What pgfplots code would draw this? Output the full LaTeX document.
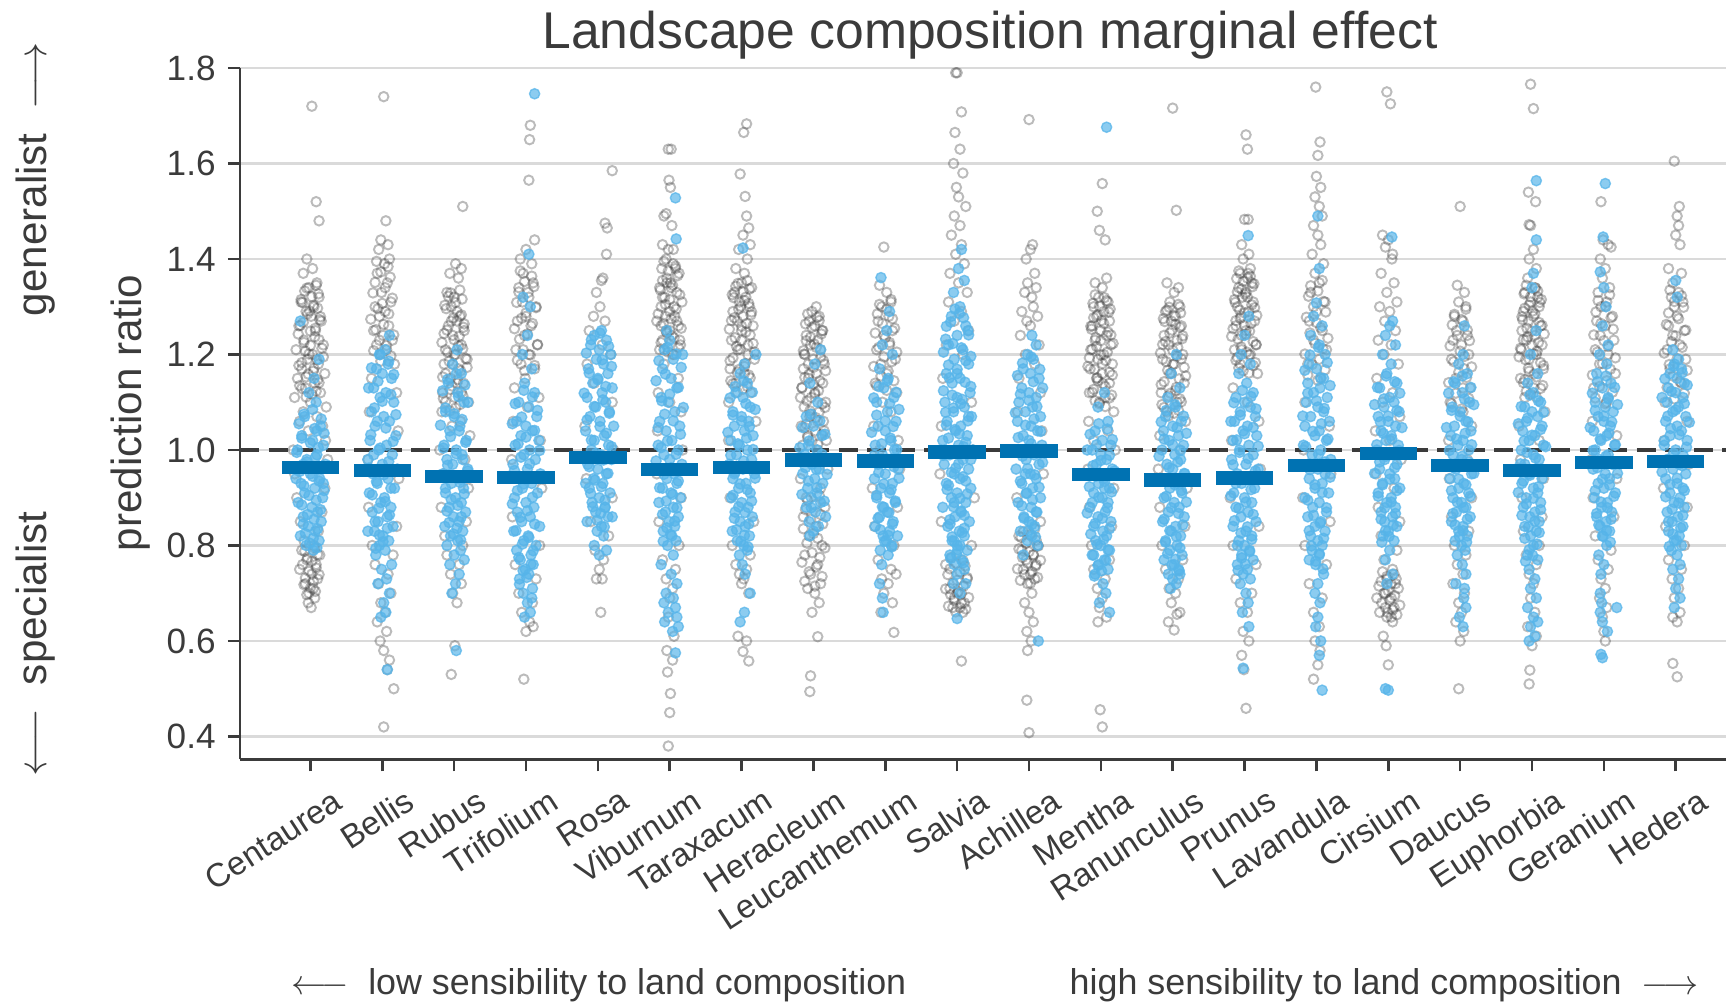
\documentclass[border=0pt]{standalone}
\usepackage{fontspec}
\setmainfont{Liberation Sans}
\usepackage{pgfplots}
\pgfplotsset{compat=1.18}
\definecolor{txt}{HTML}{3B3B3B}
\definecolor{skyb}{HTML}{56B4E9}
\definecolor{darkb}{HTML}{0072B2}
\definecolor{gridc}{HTML}{DADADA}
\definecolor{ring}{HTML}{383838}
\pgfplotsset{
  greypt/.style={only marks, mark=o, mark size=1.35pt, mark options={draw=ring, draw opacity=0.34, line width=0.55pt}},
  bluept/.style={only marks, mark=*, mark size=1.45pt, mark options={draw=skyb, fill=skyb, draw opacity=0.75, fill opacity=0.68, line width=0.4pt}},
}
\begin{document}
\begin{tikzpicture}
\path[use as bounding box] (0,0) rectangle (17.26cm,10.04cm);
\begin{axis}[
  at={(2.40cm,2.446cm)}, anchor=south west,
  width=14.86cm, height=6.914cm, scale only axis,
  xmin=-0.98, xmax=19.70, ymin=0.352, ymax=1.8,
  clip=true,
  axis x line*=bottom, axis y line*=left,
  axis line style={txt, line width=0.75pt},
  tick align=outside, major tick length=1.2mm,
  tick style={txt, line width=0.75pt},
  xtick={0,1,2,3,4,5,6,7,8,9,10,11,12,13,14,15,16,17,18,19},
  xticklabels={Centaurea,Bellis,Rubus,Trifolium,Rosa,Viburnum,Taraxacum,Heracleum,Leucanthemum,Salvia,Achillea,Mentha,Ranunculus,Prunus,Lavandula,Cirsium,Daucus,Euphorbia,Geranium,Hedera},
  xticklabel style={rotate=33, anchor=north east, text=txt, font=\fontsize{9.4}{11}\selectfont, inner sep=1pt, xshift=1.3mm, yshift=-2.1mm},
  ytick={0.4,0.6,0.8,1.0,1.2,1.4,1.6,1.8},
  yticklabels={0.4,0.6,0.8,1.0,1.2,1.4,1.6,1.8},
  yticklabel style={text=txt, font=\fontsize{10}{12}\selectfont},
  ymajorgrids, grid style={gridc, line width=0.6pt},
]
% grey: all observations (hollow)
\addplot[greypt] coordinates {
(0.02,1.72)(0.08,1.52)(0.12,1.48)(-0.05,1.40)(0.03,1.38)(-0.1,1.37)(0.09,1.35)(-0.02,1.34)(0.12,1.32)(-0.13,1.31)(0.05,1.30)(-0.06,1.29)(0.01,1.28)(0.15,1.27)(-0.16,1.26)(0.07,1.25)(-0.09,1.23)(0.18,1.22)(-0.2,1.21)(0.03,1.20)(-0.04,1.19)(0.11,1.18)(-0.12,1.17)(0.2,1.16)(-0.18,1.15)(0.06,1.14)(-0.07,1.13)(0.14,1.12)(-0.22,1.11)(0.0,1.10)(0.22,1.09)(-0.1,1.08)(0.09,1.07)(-0.15,1.06)(0.17,1.05)(-0.03,1.04)(0.21,1.02)(-0.24,1.00)(0.24,0.98)(-0.22,0.95)(0.2,0.92)(-0.19,0.90)(0.16,0.87)(-0.14,0.85)(0.11,0.83)(-0.09,0.81)(0.05,0.80)(-0.12,0.79)(0.13,0.78)(-0.05,0.77)(0.08,0.76)(-0.15,0.75)(0.02,0.74)(0.1,0.73)(-0.07,0.72)(0.04,0.71)(-0.02,0.70)(0.06,0.69)(-0.03,0.68)(0.01,0.67)
(1.02,1.74)(1.05,1.48)(0.98,1.44)(1.08,1.43)(0.95,1.42)(1.1,1.40)(1.03,1.39)(0.93,1.37)(1.07,1.35)(0.99,1.33)(1.12,1.31)(0.9,1.30)(1.04,1.29)(0.96,1.28)(1.09,1.26)(0.88,1.25)(1.01,1.24)(1.14,1.23)(0.92,1.22)(1.06,1.21)(0.97,1.20)(1.17,1.18)(0.85,1.15)(1.2,1.12)(0.82,1.08)(1.22,1.04)(0.8,0.98)(1.23,0.94)(0.81,0.88)(1.2,0.84)(0.86,0.80)(1.15,0.78)(0.9,0.76)(1.08,0.74)(0.95,0.72)(1.12,0.70)(0.98,0.68)(1.04,0.66)(0.93,0.64)(1.06,0.62)(0.97,0.60)(1.02,0.58)(1.1,0.56)(1.07,0.54)(1.16,0.50)(1.02,0.42)
(2.12,1.51)(2.02,1.39)(2.1,1.38)(1.94,1.37)(2.06,1.36)(1.9,1.33)(2.0,1.32)(1.96,1.30)(2.08,1.28)(2.04,1.27)(1.92,1.26)(2.14,1.25)(1.98,1.24)(2.1,1.22)(1.88,1.21)(2.02,1.20)(2.18,1.19)(1.86,1.18)(2.06,1.17)(1.95,1.15)(2.13,1.14)(1.84,1.12)(2.01,1.11)(2.2,1.10)(1.83,1.08)(2.09,1.06)(1.97,1.05)(2.22,1.03)(1.8,1.0)(2.15,0.98)(1.85,0.95)(2.2,0.92)(1.82,0.88)(2.17,0.85)(1.87,0.82)(2.12,0.80)(1.9,0.78)(2.07,0.76)(1.95,0.74)(2.1,0.72)(1.98,0.70)(2.04,0.68)(2.01,0.59)(1.96,0.53)
(3.06,1.68)(3.05,1.65)(3.04,1.565)(3.12,1.44)(3.0,1.42)(2.92,1.40)(3.08,1.39)(2.96,1.37)(3.1,1.35)(2.9,1.34)(3.03,1.33)(2.95,1.31)(3.14,1.30)(3.0,1.28)(2.88,1.27)(3.07,1.26)(2.98,1.24)(3.16,1.22)(2.86,1.21)(3.04,1.20)(2.93,1.18)(3.12,1.17)(2.99,1.15)(2.84,1.13)(3.18,1.11)(3.02,1.09)(2.82,1.06)(3.2,1.02)(2.8,0.98)(3.22,0.92)(2.81,0.86)(3.19,0.80)(2.85,0.76)(3.14,0.73)(2.9,0.70)(3.09,0.68)(2.94,0.66)(3.05,0.64)(3.0,0.62)(3.1,0.63)(2.97,0.52)
(4.2,1.585)(4.1,1.475)(4.13,1.465)(4.12,1.41)(4.07,1.36)(4.05,1.355)(3.98,1.33)(4.03,1.30)(3.94,1.28)(4.1,1.27)(3.88,1.25)(4.06,1.22)(4.18,1.20)(3.85,1.18)(3.95,1.14)(4.2,1.10)(3.82,1.05)(4.22,1.0)(3.84,0.94)(4.2,0.9)(3.9,0.85)(4.15,0.82)(3.96,0.79)(4.08,0.77)(4.02,0.75)(3.98,0.73)(4.06,0.73)(4.04,0.66)
(4.98,1.63)(5.02,1.63)(4.99,1.565)(5.01,1.55)(4.92,1.49)(4.95,1.495)(5.03,1.47)(4.9,1.43)(4.98,1.42)(5.05,1.42)(4.95,1.40)(5.08,1.38)(4.96,1.35)(5.02,1.34)(4.9,1.32)(5.06,1.30)(4.94,1.28)(5.1,1.27)(4.88,1.26)(5.0,1.25)(5.14,1.23)(4.86,1.21)(5.04,1.20)(4.92,1.18)(5.12,1.15)(4.84,1.12)(5.0,1.1)(5.16,1.08)(4.83,1.04)(5.18,1.0)(4.82,0.95)(5.16,0.9)(4.85,0.85)(5.13,0.80)(4.9,0.77)(5.08,0.75)(4.95,0.73)(5.04,0.71)(5.0,0.69)(4.98,0.65)(5.06,0.61)(4.96,0.58)(5.04,0.56)(4.97,0.535)(5.01,0.49)(5.0,0.45)(4.98,0.38)
(6.07,1.683)(6.03,1.665)(5.98,1.578)(6.05,1.531)(6.07,1.49)(6.1,1.465)(6.02,1.45)(6.12,1.43)(5.96,1.42)(6.08,1.40)(5.92,1.38)(6.04,1.37)(6.0,1.35)(6.14,1.34)(5.9,1.33)(6.06,1.32)(5.97,1.31)(6.11,1.30)(5.88,1.29)(6.02,1.28)(5.94,1.27)(6.16,1.26)(6.0,1.25)(5.86,1.23)(6.09,1.22)(5.95,1.21)(6.18,1.19)(5.84,1.17)(6.04,1.16)(5.92,1.14)(6.13,1.12)(5.82,1.10)(6.2,1.06)(5.82,1.02)(6.2,0.96)(5.84,0.9)(6.17,0.85)(5.87,0.80)(6.12,0.78)(5.92,0.76)(6.07,0.75)(5.97,0.74)(6.03,0.73)(6.0,0.72)(6.1,0.70)(5.95,0.61)(6.07,0.60)(6.02,0.578)(6.1,0.558)
(7.04,1.30)(6.98,1.29)(7.08,1.28)(6.94,1.27)(7.02,1.26)(7.12,1.25)(6.9,1.24)(7.06,1.23)(6.96,1.22)(7.1,1.21)(6.88,1.20)(7.0,1.19)(7.15,1.18)(6.86,1.17)(7.04,1.16)(6.93,1.15)(7.13,1.14)(6.84,1.13)(7.02,1.12)(6.97,1.11)(7.17,1.10)(6.87,1.09)(7.08,1.08)(6.95,1.07)(7.14,1.06)(6.83,1.05)(7.03,1.04)(6.92,1.03)(7.18,1.02)(6.85,1.01)(7.06,1.0)(6.98,0.98)(7.2,0.96)(6.82,0.94)(7.1,0.92)(6.9,0.90)(7.16,0.88)(6.86,0.86)(7.04,0.84)(6.94,0.82)(7.12,0.80)(6.88,0.78)(7.06,0.76)(6.96,0.74)(7.1,0.72)(6.92,0.71)(7.02,0.70)(7.08,0.68)(6.98,0.66)(7.06,0.609)(6.96,0.527)(6.95,0.494)
(7.98,1.425)(7.92,1.345)(8.02,1.33)(8.08,1.31)(7.95,1.30)(8.05,1.28)(7.9,1.27)(8.1,1.25)(7.98,1.24)(8.06,1.22)(7.88,1.21)(8.14,1.19)(7.94,1.18)(8.02,1.16)(7.86,1.14)(8.16,1.12)(7.96,1.10)(8.08,1.08)(7.84,1.05)(8.18,1.02)(7.92,1.0)(8.2,0.96)(7.82,0.92)(8.17,0.88)(7.85,0.84)(8.12,0.80)(7.9,0.77)(8.08,0.75)(7.95,0.73)(8.04,0.72)(7.98,0.70)(8.1,0.68)(7.94,0.66)(8.12,0.618)(8.15,0.74)
(8.98,1.79)(9.0,1.79)(9.06,1.708)(8.97,1.665)(9.04,1.63)(8.95,1.6)(9.08,1.58)(8.99,1.55)(9.02,1.53)(9.12,1.51)(8.96,1.49)(9.04,1.47)(8.92,1.45)(9.06,1.43)(8.98,1.41)(9.1,1.39)(8.9,1.37)(9.02,1.35)(9.14,1.33)(8.88,1.31)(9.06,1.29)(8.96,1.27)(9.16,1.25)(8.85,1.22)(9.08,1.20)(8.8,1.15)(9.2,1.10)(8.78,1.05)(9.22,1.0)(8.76,0.95)(9.24,0.90)(8.78,0.85)(9.2,0.80)(8.84,0.76)(9.14,0.73)(8.9,0.71)(9.06,0.70)(8.96,0.69)(9.1,0.68)(9.0,0.70)(8.94,0.67)(9.04,0.67)(9.08,0.66)(9.06,0.558)
(10.0,1.692)(10.05,1.43)(10.02,1.42)(9.96,1.40)(10.08,1.37)(9.98,1.35)(10.1,1.34)(9.94,1.33)(10.04,1.32)(10.06,1.30)(9.9,1.29)(10.12,1.28)(9.97,1.27)(10.02,1.26)(9.88,1.24)(10.14,1.22)(9.95,1.20)(10.08,1.18)(9.86,1.15)(10.16,1.12)(9.84,1.08)(10.18,1.04)(9.82,1.0)(10.2,0.95)(9.83,0.9)(10.16,0.85)(9.86,0.82)(10.12,0.80)(9.9,0.79)(10.06,0.78)(9.96,0.77)(10.1,0.76)(9.92,0.75)(10.02,0.74)(10.08,0.73)(9.98,0.72)(10.04,0.70)(9.94,0.68)(10.0,0.66)(10.06,0.64)(9.97,0.62)(10.03,0.60)(9.98,0.58)(9.97,0.476)(10.0,0.408)
(11.02,1.558)(10.95,1.50)(10.98,1.46)(11.06,1.44)(11.08,1.36)(10.92,1.35)(11.02,1.34)(10.97,1.32)(11.1,1.31)(10.9,1.30)(11.04,1.29)(10.94,1.28)(11.12,1.27)(10.88,1.26)(11.0,1.25)(11.08,1.24)(10.92,1.23)(11.14,1.22)(10.86,1.21)(11.04,1.20)(10.96,1.19)(11.16,1.18)(10.85,1.17)(11.02,1.16)(10.94,1.15)(11.12,1.14)(10.84,1.12)(11.06,1.11)(10.98,1.10)(11.18,1.08)(10.83,1.06)(11.1,1.04)(10.9,1.02)(11.2,1.0)(10.82,0.96)(11.18,0.92)(10.84,0.88)(11.15,0.84)(10.87,0.80)(11.12,0.77)(10.9,0.75)(11.06,0.73)(10.95,0.71)(11.02,0.69)(10.98,0.67)(11.08,0.65)(10.96,0.64)(10.99,0.456)(11.02,0.42)
(12.0,1.716)(12.05,1.502)(11.92,1.35)(12.08,1.34)(12.02,1.33)(11.96,1.31)(12.1,1.30)(11.9,1.29)(12.04,1.28)(11.98,1.27)(12.12,1.26)(11.88,1.24)(12.06,1.23)(11.94,1.22)(12.14,1.20)(11.86,1.19)(12.02,1.18)(11.96,1.16)(12.16,1.14)(11.84,1.12)(12.06,1.10)(11.92,1.08)(12.18,1.06)(11.82,1.03)(12.1,1.0)(11.8,0.96)(12.2,0.92)(11.82,0.88)(12.17,0.84)(11.85,0.80)(12.14,0.77)(11.9,0.75)(12.08,0.73)(11.95,0.71)(12.04,0.70)(11.98,0.68)(12.1,0.66)(12.06,0.656)(11.94,0.64)(12.02,0.623)
(13.02,1.66)(13.04,1.63)(13.05,1.483)(13.0,1.483)(12.96,1.43)(13.06,1.41)(12.98,1.40)(13.08,1.38)(12.94,1.37)(13.04,1.36)(13.1,1.35)(12.92,1.34)(13.02,1.33)(12.97,1.32)(13.12,1.31)(12.9,1.30)(13.06,1.29)(12.95,1.28)(13.14,1.27)(12.88,1.26)(13.02,1.25)(12.96,1.24)(13.16,1.22)(12.86,1.21)(13.08,1.20)(12.94,1.18)(13.18,1.16)(12.84,1.13)(13.04,1.10)(13.2,1.06)(12.82,1.02)(13.22,0.96)(12.8,0.9)(13.2,0.84)(12.84,0.80)(13.16,0.76)(12.88,0.73)(13.1,0.70)(12.94,0.68)(13.04,0.66)(12.98,0.62)(13.06,0.60)(12.96,0.57)(12.99,0.54)(13.02,0.459)
(13.99,1.76)(14.05,1.645)(14.02,1.617)(14.0,1.573)(14.06,1.55)(13.98,1.53)(14.04,1.51)(14.08,1.49)(13.96,1.47)(14.02,1.45)(14.06,1.43)(13.94,1.41)(14.1,1.39)(13.98,1.37)(14.04,1.35)(13.92,1.33)(14.12,1.31)(14.0,1.29)(13.9,1.27)(14.08,1.25)(13.96,1.23)(14.14,1.21)(13.88,1.18)(14.06,1.15)(13.84,1.10)(14.18,1.05)(13.82,1.0)(14.2,0.95)(13.81,0.9)(14.19,0.85)(13.84,0.80)(14.14,0.76)(13.9,0.72)(14.08,0.69)(13.96,0.66)(14.04,0.63)(13.98,0.60)(14.05,0.58)(14.02,0.55)(13.96,0.52)
(14.98,1.75)(15.03,1.725)(14.92,1.45)(15.0,1.44)(14.96,1.425)(15.06,1.41)(15.05,1.40)(14.9,1.37)(15.08,1.35)(14.98,1.33)(15.12,1.31)(14.88,1.30)(15.02,1.29)(14.95,1.27)(15.1,1.25)(14.86,1.23)(15.04,1.22)(14.94,1.20)(15.14,1.18)(14.84,1.15)(15.06,1.12)(14.92,1.10)(15.16,1.07)(14.82,1.04)(15.02,1.02)(15.18,0.98)(14.83,0.95)(15.08,0.92)(14.86,0.88)(15.16,0.85)(14.9,0.82)(15.12,0.79)(14.94,0.77)(15.06,0.75)(14.98,0.73)(15.1,0.72)(14.96,0.70)(15.04,0.69)(15.08,0.67)(14.99,0.66)(15.04,0.65)(15.06,0.64)(14.97,0.59)(15.0,0.55)(14.93,0.61)
(16.0,1.51)(15.96,1.345)(16.06,1.33)(15.98,1.31)(16.08,1.30)(15.92,1.28)(16.04,1.27)(15.95,1.25)(16.1,1.24)(15.9,1.23)(16.02,1.22)(16.12,1.20)(15.88,1.19)(16.06,1.17)(15.94,1.15)(16.14,1.13)(15.86,1.10)(16.04,1.08)(16.16,1.05)(15.84,1.02)(16.1,0.98)(15.85,0.94)(16.16,0.90)(15.88,0.86)(16.12,0.83)(15.92,0.80)(16.08,0.78)(15.96,0.76)(16.04,0.74)(15.9,0.72)(16.06,0.70)(15.98,0.68)(16.02,0.66)(15.94,0.64)(16.0,0.60)(16.05,0.62)(15.98,0.50)
(16.98,1.766)(17.02,1.715)(16.95,1.54)(17.05,1.52)(16.96,1.472)(16.98,1.47)(17.02,1.42)(16.96,1.40)(17.06,1.38)(16.94,1.36)(17.04,1.34)(16.9,1.33)(17.08,1.32)(16.98,1.31)(17.1,1.30)(16.88,1.29)(17.02,1.28)(16.95,1.27)(17.12,1.26)(16.86,1.25)(17.04,1.24)(16.92,1.23)(17.14,1.22)(16.85,1.21)(17.06,1.20)(16.96,1.19)(17.16,1.17)(16.84,1.15)(17.02,1.13)(16.9,1.11)(17.18,1.08)(16.82,1.05)(17.1,1.02)(16.84,0.98)(17.16,0.94)(16.86,0.90)(17.14,0.86)(16.88,0.83)(17.1,0.80)(16.92,0.78)(17.06,0.76)(16.96,0.74)(17.02,0.72)(16.98,0.69)(17.04,0.66)(16.94,0.63)(17.06,0.61)(17.0,0.59)(16.97,0.539)(16.96,0.51)
(17.96,1.52)(17.99,1.44)(18.06,1.43)(18.1,1.425)(17.95,1.40)(18.02,1.38)(17.98,1.36)(18.08,1.34)(17.92,1.33)(18.04,1.31)(17.96,1.30)(18.12,1.28)(17.9,1.27)(18.02,1.26)(17.95,1.24)(18.14,1.23)(17.88,1.21)(18.06,1.20)(17.94,1.18)(18.16,1.16)(17.86,1.13)(18.04,1.10)(17.84,1.06)(18.18,1.03)(17.83,0.98)(18.18,0.94)(17.85,0.9)(18.14,0.86)(17.88,0.82)(18.1,0.79)(17.92,0.77)(18.06,0.75)(17.96,0.73)(18.02,0.71)(17.94,0.69)(18.04,0.67)(17.98,0.65)(18.0,0.62)(18.02,0.60)
(18.98,1.605)(19.05,1.51)(19.02,1.49)(19.04,1.47)(19.0,1.45)(19.06,1.43)(18.9,1.38)(19.08,1.37)(18.96,1.35)(19.04,1.33)(18.94,1.32)(19.1,1.31)(18.98,1.30)(19.02,1.28)(18.9,1.26)(19.12,1.25)(18.96,1.24)(19.06,1.22)(18.88,1.21)(19.14,1.19)(18.92,1.17)(19.08,1.14)(18.85,1.10)(19.16,1.06)(18.84,1.02)(19.18,0.97)(18.83,0.92)(19.16,0.88)(18.86,0.84)(19.12,0.80)(18.9,0.77)(19.08,0.75)(18.95,0.73)(19.04,0.71)(18.98,0.69)(19.06,0.66)(19.02,0.64)(18.96,0.65)(18.96,0.553)(19.02,0.525)
};
% grey: denser parts of each cloud
\addplot[greypt] coordinates {
(0.08,1.345)(-0.08,1.333)(0.02,1.321)(-0.11,1.309)(0.1,1.297)(-0.04,1.285)(0.13,1.273)(-0.14,1.261)(0.0,1.249)(0.06,1.237)(-0.09,1.225)(0.16,1.213)(-0.02,1.201)(0.09,1.189)(-0.16,1.177)(0.04,1.165)(-0.06,1.153)(0.12,1.141)(-0.12,1.129)(0.02,1.117)
(-0.05,1.339)(0.11,1.327)(-0.13,1.315)(0.04,1.303)(-0.01,1.291)(0.14,1.279)(-0.1,1.267)(0.07,1.255)(-0.17,1.243)(0.12,1.231)(0.0,1.219)(-0.07,1.207)(0.18,1.195)(-0.12,1.183)(0.05,1.171)(-0.03,1.159)(0.1,1.147)(-0.15,1.135)(0.08,1.123)(-0.06,1.111)
(0.06,0.795)(-0.08,0.788)(0.1,0.781)(-0.04,0.774)(0.02,0.767)(-0.11,0.760)(0.08,0.753)(-0.02,0.746)(0.12,0.739)(-0.07,0.732)(0.04,0.725)(-0.09,0.718)(0.0,0.711)(0.07,0.704)(-0.05,0.697)
(0.92,1.395)(1.08,1.384)(0.98,1.373)(1.11,1.362)(0.9,1.351)(1.04,1.340)(0.87,1.329)(1.14,1.318)(1.0,1.307)(0.94,1.296)(1.09,1.285)(0.84,1.274)(1.02,1.263)(0.91,1.252)(1.16,1.241)(0.96,1.230)(1.06,1.219)(0.88,1.208)(1.12,1.197)(0.98,1.186)
(2.08,1.335)(1.92,1.322)(2.02,1.309)(1.89,1.296)(2.1,1.283)(1.96,1.270)(2.13,1.257)(1.86,1.244)(2.0,1.231)(2.06,1.218)(1.91,1.205)(2.16,1.192)(1.98,1.179)(2.09,1.166)(1.84,1.153)(2.04,1.140)(1.94,1.127)(2.12,1.114)(1.88,1.101)(2.02,1.088)
(1.95,1.329)(2.11,1.316)(1.87,1.303)(2.04,1.290)(1.99,1.277)(2.14,1.264)(1.9,1.251)(2.07,1.238)(1.83,1.225)(2.12,1.212)(2.0,1.199)(1.93,1.186)(2.18,1.173)(1.88,1.160)(2.05,1.147)(1.97,1.134)(2.1,1.121)(1.85,1.108)(2.08,1.095)(1.94,1.082)
(2.92,1.375)(3.08,1.364)(2.98,1.353)(3.11,1.342)(2.9,1.331)(3.04,1.320)(2.87,1.309)(3.14,1.298)(3.0,1.287)(2.94,1.276)(3.09,1.265)(2.84,1.254)(3.02,1.243)(2.91,1.232)(3.16,1.221)(2.96,1.210)(3.06,1.199)(2.88,1.188)(3.12,1.177)(2.98,1.166)
(4.92,1.395)(5.08,1.385)(4.98,1.375)(5.11,1.365)(4.9,1.355)(5.04,1.345)(4.87,1.335)(5.14,1.325)(5.0,1.315)(4.94,1.305)(5.09,1.295)(4.84,1.285)(5.02,1.275)(4.91,1.265)(5.16,1.255)(4.96,1.245)(5.06,1.235)(4.88,1.225)(5.12,1.215)(4.98,1.205)
(5.05,1.39)(4.89,1.38)(5.13,1.37)(4.96,1.36)(5.01,1.35)(4.86,1.34)(5.1,1.33)(4.93,1.32)(5.17,1.31)(4.88,1.30)(5.0,1.29)(5.07,1.28)(4.82,1.27)(5.12,1.26)(4.95,1.25)(5.03,1.24)(4.9,1.23)(5.15,1.22)(4.92,1.21)(5.06,1.20)
(6.08,1.355)(5.92,1.343)(6.02,1.331)(5.89,1.319)(6.1,1.307)(5.96,1.295)(6.13,1.283)(5.86,1.271)(6.0,1.259)(6.06,1.247)(5.91,1.235)(6.16,1.223)(5.98,1.211)(6.09,1.199)(5.84,1.187)(6.04,1.175)(5.94,1.163)(6.12,1.151)(5.88,1.139)(6.02,1.127)
(5.95,1.349)(6.11,1.337)(5.87,1.325)(6.04,1.313)(5.99,1.301)(6.14,1.289)(5.9,1.277)(6.07,1.265)(5.83,1.253)(6.12,1.241)(6.0,1.229)(5.93,1.217)(6.18,1.205)(5.88,1.193)(6.05,1.181)(5.97,1.169)(6.1,1.157)(5.85,1.145)(6.08,1.133)(5.94,1.121)
(6.92,1.285)(7.08,1.271)(6.98,1.257)(7.11,1.243)(6.9,1.229)(7.04,1.215)(6.87,1.201)(7.14,1.187)(7.0,1.173)(6.94,1.159)(7.09,1.145)(6.84,1.131)(7.02,1.117)(6.91,1.103)(7.16,1.089)(6.96,1.075)(7.06,1.061)(6.88,1.047)(7.12,1.033)(6.98,1.019)
(7.05,1.278)(6.89,1.264)(7.13,1.250)(6.96,1.236)(7.01,1.222)(6.86,1.208)(7.1,1.194)(6.93,1.180)(7.17,1.166)(6.88,1.152)(7.0,1.138)(7.07,1.124)(6.82,1.110)(7.12,1.096)(6.95,1.082)(7.03,1.068)(6.9,1.054)(7.15,1.040)(6.92,1.026)(7.06,1.012)
(7.08,0.905)(6.92,0.895)(7.02,0.885)(6.89,0.875)(7.1,0.865)(6.96,0.855)(7.13,0.845)(6.86,0.835)(7.0,0.825)(7.06,0.815)(6.91,0.805)(7.16,0.795)(6.98,0.785)(7.09,0.775)(6.84,0.765)(7.04,0.755)(6.94,0.745)(7.12,0.735)(6.88,0.725)(7.02,0.715)
(8.08,1.315)(7.92,1.305)(8.02,1.295)(7.89,1.285)(8.1,1.275)(7.96,1.265)(8.13,1.255)(7.86,1.245)(8.0,1.235)(8.06,1.225)(7.91,1.215)(8.16,1.205)(7.98,1.195)(8.09,1.185)(7.84,1.175)(8.04,1.165)(7.94,1.155)(8.12,1.145)(7.88,1.135)(8.02,1.125)
(8.92,0.775)(9.08,0.769)(8.98,0.763)(9.11,0.757)(8.9,0.751)(9.04,0.745)(8.87,0.739)(9.14,0.733)(9.0,0.727)(8.94,0.721)(9.09,0.715)(8.84,0.709)(9.02,0.703)(8.91,0.697)(9.16,0.691)(8.96,0.685)(9.06,0.679)(8.88,0.673)(9.12,0.667)(8.98,0.661)
(10.08,0.835)(9.92,0.829)(10.02,0.823)(9.89,0.817)(10.1,0.811)(9.96,0.805)(10.13,0.799)(9.86,0.793)(10.0,0.787)(10.06,0.781)(9.91,0.775)(10.16,0.769)(9.98,0.763)(10.09,0.757)(9.84,0.751)(10.04,0.745)(9.94,0.739)(10.12,0.733)(9.88,0.727)(10.02,0.721)
(10.92,1.325)(11.08,1.313)(10.98,1.301)(11.11,1.289)(10.9,1.277)(11.04,1.265)(10.87,1.253)(11.14,1.241)(11.0,1.229)(10.94,1.217)(11.09,1.205)(10.84,1.193)(11.02,1.181)(10.91,1.169)(11.16,1.157)(10.96,1.145)(11.06,1.133)(10.88,1.121)(11.12,1.109)(10.98,1.097)
(11.05,1.319)(10.89,1.307)(11.13,1.295)(10.96,1.283)(11.01,1.271)(10.86,1.259)(11.1,1.247)(10.93,1.235)(11.17,1.223)(10.88,1.211)(11.0,1.199)(11.07,1.187)(10.82,1.175)(11.12,1.163)(10.95,1.151)(11.03,1.139)(10.9,1.127)(11.15,1.115)(10.92,1.103)(11.06,1.091)
(12.08,1.305)(11.92,1.293)(12.02,1.281)(11.89,1.269)(12.1,1.257)(11.96,1.245)(12.13,1.233)(11.86,1.221)(12.0,1.209)(12.06,1.197)(11.91,1.185)(12.16,1.173)(11.98,1.161)(12.09,1.149)(11.84,1.137)(12.04,1.125)(11.94,1.113)(12.12,1.101)(11.88,1.089)(12.02,1.077)
(11.95,1.299)(12.11,1.287)(11.87,1.275)(12.04,1.263)(11.99,1.251)(12.14,1.239)(11.9,1.227)(12.07,1.215)(11.83,1.203)(12.12,1.191)(12.0,1.179)(11.93,1.167)(12.18,1.155)(11.88,1.143)(12.05,1.131)(11.97,1.119)(12.1,1.107)(11.85,1.095)(12.08,1.083)(11.94,1.071)
(12.92,1.375)(13.08,1.364)(12.98,1.353)(13.11,1.342)(12.9,1.331)(13.04,1.320)(12.87,1.309)(13.14,1.298)(13.0,1.287)(12.94,1.276)(13.09,1.265)(12.84,1.254)(13.02,1.243)(12.91,1.232)(13.16,1.221)(12.96,1.210)(13.06,1.199)(12.88,1.188)(13.12,1.177)(12.98,1.166)
(13.05,1.370)(12.89,1.359)(13.13,1.348)(12.96,1.337)(13.01,1.326)(12.86,1.315)(13.1,1.304)(12.93,1.293)(13.17,1.282)(12.88,1.271)(13.0,1.260)(13.07,1.249)(12.82,1.238)(13.12,1.227)(12.95,1.216)(13.03,1.205)(12.9,1.194)(13.15,1.183)(12.92,1.172)(13.06,1.161)
(14.08,1.355)(13.92,1.344)(14.02,1.333)(13.89,1.322)(14.1,1.311)(13.96,1.300)(14.13,1.289)(13.86,1.278)(14.0,1.267)(14.06,1.256)(13.91,1.245)(14.16,1.234)(13.98,1.223)(14.09,1.212)(13.84,1.201)(14.04,1.190)(13.94,1.179)(14.12,1.168)(13.88,1.157)(14.02,1.146)
(14.92,0.745)(15.08,0.740)(14.98,0.735)(15.11,0.730)(14.9,0.725)(15.04,0.720)(14.87,0.715)(15.14,0.710)(15.0,0.705)(14.94,0.700)(15.09,0.695)(14.84,0.690)(15.02,0.685)(14.91,0.680)(15.16,0.675)(14.96,0.670)(15.06,0.665)(14.88,0.660)(15.12,0.655)(14.98,0.650)
(16.08,1.295)(15.92,1.284)(16.02,1.273)(15.89,1.262)(16.1,1.251)(15.96,1.240)(16.13,1.229)(15.86,1.218)(16.0,1.207)(16.06,1.196)(15.91,1.185)(16.16,1.174)(15.98,1.163)(16.09,1.152)(15.84,1.141)(16.04,1.130)(15.94,1.119)(16.12,1.108)(15.88,1.097)(16.02,1.086)
(16.92,1.345)(17.08,1.333)(16.98,1.321)(17.11,1.309)(16.9,1.297)(17.04,1.285)(16.87,1.273)(17.14,1.261)(17.0,1.249)(16.94,1.237)(17.09,1.225)(16.84,1.213)(17.02,1.201)(16.91,1.189)(17.16,1.177)(16.96,1.165)(17.06,1.153)(16.88,1.141)(17.12,1.129)(16.98,1.117)
(17.05,1.339)(16.89,1.327)(17.13,1.315)(16.96,1.303)(17.01,1.291)(16.86,1.279)(17.1,1.267)(16.93,1.255)(17.17,1.243)(16.88,1.231)(17.0,1.219)(17.07,1.207)(16.82,1.195)(17.12,1.183)(16.95,1.171)(17.03,1.159)(16.9,1.147)(17.15,1.135)(16.92,1.123)(17.06,1.111)
(18.08,1.325)(17.92,1.313)(18.02,1.301)(17.89,1.289)(18.1,1.277)(17.96,1.265)(18.13,1.253)(17.86,1.241)(18.0,1.229)(18.06,1.217)(17.91,1.205)(18.16,1.193)(17.98,1.181)(18.09,1.169)(17.84,1.157)(18.04,1.145)(17.94,1.133)(18.12,1.121)(17.88,1.109)(18.02,1.097)
(18.92,1.335)(19.08,1.323)(18.98,1.311)(19.11,1.299)(18.9,1.287)(19.04,1.275)(18.87,1.263)(19.14,1.251)(19.0,1.239)(18.94,1.227)(19.09,1.215)(18.84,1.203)(19.02,1.191)(18.91,1.179)(19.16,1.167)(18.96,1.155)(19.06,1.143)(18.88,1.131)(19.12,1.119)(18.98,1.107)
};
% blue: highlighted observations (filled)
\addplot[bluept] coordinates {
(-0.14,1.27)(0.12,1.19)(0.05,1.15)(-0.02,1.12)(0.08,1.1)(-0.08,1.07)(0.14,1.05)(-0.12,1.03)(0.03,1.02)(0.18,1.01)(-0.18,1.0)(0.09,0.99)(-0.05,0.98)(0.21,0.97)(-0.21,0.96)(0.0,0.95)(0.13,0.94)(-0.13,0.93)(0.06,0.92)(-0.08,0.91)(0.17,0.90)(-0.17,0.89)(0.02,0.88)(0.1,0.87)(-0.1,0.86)(0.15,0.85)(-0.03,0.84)(0.07,0.83)(-0.14,0.82)(0.12,0.81)(-0.06,0.80)(0.04,0.79)(0.18,0.93)(-0.2,0.94)(0.09,1.04)(-0.1,0.97)
(1.1,1.24)(1.04,1.21)(0.96,1.2)(1.08,1.18)(0.92,1.17)(1.0,1.16)(1.13,1.15)(0.88,1.13)(1.05,1.12)(0.97,1.11)(1.16,1.1)(0.85,1.08)(1.02,1.07)(1.1,1.06)(0.9,1.05)(1.19,1.03)(0.83,1.02)(1.06,1.01)(0.95,1.0)(1.14,0.99)(0.8,0.98)(1.0,0.97)(1.21,0.96)(0.87,0.95)(1.08,0.94)(0.93,0.93)(1.17,0.92)(0.82,0.91)(1.03,0.9)(0.98,0.89)(1.12,0.88)(0.86,0.87)(1.07,0.86)(0.94,0.85)(1.15,0.84)(0.89,0.83)(1.01,0.82)(1.09,0.81)(0.96,0.8)(1.04,0.79)(0.91,0.78)(1.13,0.76)(0.99,0.75)(1.06,0.73)(0.94,0.72)(1.1,0.7)(1.02,0.68)(1.05,0.66)(0.98,0.65)(1.07,0.54)(0.8,0.83)
(2.04,1.21)(1.98,1.18)(2.1,1.16)(1.92,1.14)(2.05,1.12)(2.14,1.10)(1.88,1.08)(2.0,1.07)(2.08,1.05)(1.94,1.04)(2.17,1.02)(1.86,1.01)(2.03,1.0)(2.11,0.99)(1.9,0.98)(1.98,0.97)(2.19,0.96)(1.84,0.95)(2.06,0.94)(1.96,0.93)(2.13,0.92)(1.88,0.91)(2.02,0.90)(2.1,0.89)(1.93,0.88)(2.16,0.87)(1.99,0.86)(2.07,0.85)(1.87,0.84)(2.12,0.83)(1.95,0.82)(2.05,0.81)(1.9,0.80)(2.09,0.79)(2.0,0.78)(2.14,0.77)(1.94,0.76)(2.07,0.74)(2.02,0.72)(1.97,0.70)(2.03,0.58)
(3.12,1.746)(3.04,1.41)(2.96,1.32)(3.06,1.30)(3.02,1.24)(2.95,1.2)(3.08,1.17)(2.98,1.14)(3.12,1.12)(2.9,1.10)(3.04,1.09)(3.15,1.07)(2.87,1.06)(3.0,1.05)(3.09,1.04)(2.93,1.03)(3.18,1.02)(2.85,1.01)(3.05,1.0)(2.97,0.99)(3.13,0.98)(2.82,0.97)(3.02,0.96)(3.2,0.95)(2.9,0.94)(3.08,0.93)(2.95,0.92)(3.16,0.91)(2.84,0.90)(3.0,0.89)(3.11,0.88)(2.88,0.87)(3.06,0.86)(2.94,0.85)(3.19,0.84)(2.83,0.83)(3.03,0.82)(2.97,0.81)(3.14,0.80)(2.87,0.79)(3.07,0.78)(2.92,0.77)(3.1,0.76)(2.99,0.75)(3.04,0.74)(2.91,0.73)(3.09,0.71)(2.96,0.70)(3.02,0.68)(3.06,0.66)(2.98,0.65)(3.08,0.69)
(4.05,1.25)(3.95,1.24)(4.12,1.23)(3.9,1.22)(4.02,1.21)(4.18,1.20)(3.98,1.19)(4.08,1.18)(3.87,1.17)(4.14,1.16)(4.0,1.15)(3.93,1.14)(4.2,1.13)(4.06,1.12)(3.85,1.11)(4.11,1.10)(3.97,1.09)(4.16,1.08)(3.89,1.07)(4.03,1.06)(4.22,1.05)(3.83,1.04)(4.09,1.03)(3.95,1.02)(4.15,1.01)(3.91,1.0)(4.04,0.99)(4.19,0.98)(3.86,0.97)(4.0,0.96)(4.12,0.95)(3.94,0.94)(4.07,0.93)(3.88,0.92)(4.17,0.91)(4.02,0.90)(3.92,0.89)(4.1,0.88)(3.97,0.87)(4.14,0.86)(3.85,0.85)(4.05,0.84)(4.2,0.86)(3.99,0.83)(4.08,0.82)(3.95,0.80)(4.12,0.79)(4.02,0.78)(4.1,0.88)(3.83,0.93)
(5.08,1.528)(5.09,1.442)(5.18,1.20)(4.96,1.25)(5.0,1.23)(4.93,1.21)(5.05,1.19)(4.9,1.17)(5.02,1.15)(5.1,1.13)(4.88,1.11)(4.98,1.10)(5.07,1.08)(4.86,1.06)(5.14,1.05)(4.95,1.04)(5.03,1.02)(4.84,1.01)(5.12,1.0)(4.92,0.99)(5.0,0.98)(5.17,0.97)(4.87,0.96)(5.06,0.95)(4.96,0.94)(5.1,0.93)(4.9,0.92)(5.02,0.91)(5.15,0.90)(4.85,0.89)(5.05,0.88)(4.94,0.87)(5.12,0.86)(4.99,0.85)(5.07,0.84)(4.91,0.83)(5.03,0.82)(5.09,0.81)(4.97,0.80)(5.05,0.78)(4.88,0.76)(5.02,0.74)(5.1,0.72)(4.95,0.70)(5.05,0.69)(4.92,0.68)(5.08,0.67)(4.98,0.66)(5.1,0.65)(4.93,0.64)(5.12,0.63)(5.04,0.62)(5.08,0.575)
(6.02,1.423)(6.2,1.20)(6.04,1.18)(5.98,1.16)(6.08,1.14)(5.92,1.12)(6.02,1.11)(6.12,1.09)(5.88,1.08)(6.0,1.07)(6.1,1.06)(5.9,1.05)(6.04,1.04)(6.16,1.03)(5.85,1.02)(5.97,1.01)(6.08,1.0)(5.93,0.99)(6.14,0.98)(5.83,0.97)(6.02,0.96)(6.18,0.95)(5.88,0.94)(6.06,0.93)(5.96,0.92)(6.12,0.91)(5.86,0.90)(6.0,0.89)(6.09,0.88)(5.91,0.87)(6.15,0.86)(5.98,0.85)(6.05,0.84)(5.87,0.83)(6.11,0.82)(5.94,0.81)(6.03,0.80)(6.08,0.79)(5.97,0.78)(6.01,0.76)(6.05,0.74)(6.12,0.70)(5.98,0.64)(6.04,0.66)(5.9,0.95)
(7.1,1.21)(7.02,1.18)(6.95,1.14)(7.06,1.10)(6.9,1.07)(7.0,1.05)(7.12,1.03)(6.93,1.01)(7.05,1.0)(6.88,0.99)(7.15,0.98)(6.98,0.97)(7.08,0.96)(6.85,0.95)(7.02,0.94)(7.13,0.93)(6.92,0.92)(7.05,0.91)(6.97,0.90)(7.1,0.89)(6.9,0.88)(7.03,0.87)(7.17,0.86)(6.94,0.85)(7.07,0.84)(7.0,0.83)(6.95,0.82)(7.04,0.96)
(7.94,1.361)(8.06,1.29)(8.02,1.25)(7.96,1.22)(8.1,1.2)(7.92,1.17)(8.04,1.15)(7.98,1.13)(8.12,1.11)(7.88,1.10)(8.03,1.08)(8.15,1.06)(7.9,1.05)(8.0,1.04)(8.08,1.02)(7.86,1.01)(8.13,1.0)(7.96,0.99)(8.05,0.98)(7.9,0.97)(8.18,0.96)(8.0,0.95)(7.85,0.94)(8.1,0.93)(7.94,0.92)(8.06,0.91)(7.88,0.90)(8.14,0.89)(7.98,0.88)(8.03,0.87)(7.92,0.86)(8.11,0.85)(7.86,0.84)(8.06,0.83)(7.97,0.82)(8.01,0.81)(8.09,0.80)(7.93,0.79)(8.04,0.78)(7.95,0.76)(7.92,0.72)(7.96,0.69)(7.97,0.66)(8.17,0.82)
(9.06,1.42)(9.02,1.38)(9.1,1.355)(8.95,1.33)(9.04,1.30)(8.92,1.28)(9.12,1.26)(9.0,1.24)(8.88,1.22)(9.08,1.21)(8.96,1.19)(9.16,1.18)(8.85,1.16)(9.04,1.15)(8.93,1.14)(9.18,1.12)(9.0,1.11)(8.83,1.10)(9.1,1.09)(8.95,1.08)(9.2,1.07)(8.86,1.06)(9.05,1.05)(8.98,1.04)(9.14,1.03)(8.8,1.02)(9.02,1.01)(9.22,1.0)(8.9,0.99)(9.08,0.98)(8.82,0.97)(9.16,0.96)(8.96,0.95)(9.04,0.94)(8.85,0.93)(9.19,0.92)(9.0,0.91)(8.92,0.90)(9.12,0.89)(8.8,0.88)(9.06,0.87)(8.97,0.86)(9.17,0.85)(8.87,0.84)(9.03,0.83)(9.1,0.82)(8.93,0.81)(9.0,0.80)(9.14,0.79)(8.9,0.78)(9.06,0.77)(8.96,0.76)(9.1,0.75)(9.0,0.74)(8.95,0.72)(9.04,0.70)(9.0,0.647)(9.12,0.72)
(10.04,1.24)(10.1,1.22)(9.98,1.20)(10.06,1.19)(9.92,1.17)(10.02,1.16)(10.14,1.15)(9.9,1.13)(10.0,1.12)(10.1,1.11)(9.86,1.10)(10.05,1.09)(9.95,1.08)(10.16,1.07)(9.84,1.06)(10.03,1.05)(10.12,1.04)(9.92,1.03)(10.0,1.02)(10.18,1.01)(9.86,1.0)(10.07,0.99)(9.96,0.98)(10.14,0.97)(9.82,0.96)(10.02,0.95)(10.1,0.94)(9.9,0.93)(10.05,0.92)(9.97,0.91)(10.16,0.90)(9.85,0.89)(10.03,0.88)(10.11,0.87)(9.93,0.86)(10.0,0.85)(10.08,0.84)(9.88,0.83)(10.04,0.82)(9.98,0.81)(10.12,0.80)(9.95,0.95)(10.13,0.60)(9.92,0.78)
(11.08,1.676)(11.05,1.12)(10.96,1.09)(11.1,1.06)(10.92,1.04)(11.02,1.02)(11.14,1.01)(10.88,1.0)(11.0,0.99)(11.08,0.98)(10.94,0.97)(11.16,0.96)(10.86,0.95)(11.04,0.94)(10.97,0.93)(11.12,0.92)(10.9,0.91)(11.02,0.90)(11.1,0.89)(10.85,0.88)(11.06,0.87)(10.96,0.86)(11.14,0.85)(10.9,0.84)(11.03,0.83)(11.08,0.82)(10.93,0.81)(11.0,0.80)(11.12,0.79)(10.88,0.78)(11.05,0.77)(10.97,0.76)(11.1,0.75)(10.92,0.74)(11.03,0.72)(11.07,0.70)(10.98,0.68)(11.12,0.66)(11.05,0.92)
(12.05,1.20)(11.98,1.16)(12.1,1.13)(11.93,1.11)(12.04,1.09)(11.9,1.07)(12.12,1.06)(12.0,1.05)(11.87,1.04)(12.08,1.03)(11.95,1.02)(12.15,1.01)(11.85,1.0)(12.03,0.99)(12.11,0.98)(11.92,0.97)(12.0,0.96)(12.17,0.95)(11.84,0.94)(12.06,0.93)(11.96,0.92)(12.13,0.91)(11.88,0.90)(12.02,0.89)(12.09,0.88)(11.94,0.87)(12.16,0.86)(11.86,0.85)(12.04,0.84)(11.98,0.83)(12.11,0.82)(11.9,0.81)(12.06,0.80)(11.96,0.79)(12.13,0.78)(11.88,0.77)(12.02,0.76)(12.08,0.75)(11.94,0.74)(12.0,0.73)(12.05,0.72)(11.97,0.71)(12.1,0.74)
(13.05,1.449)(13.06,1.28)(13.0,1.24)(12.95,1.20)(13.08,1.18)(12.92,1.16)(13.03,1.14)(13.12,1.12)(12.88,1.11)(13.0,1.10)(13.08,1.09)(12.94,1.08)(13.15,1.07)(12.86,1.06)(13.04,1.05)(12.98,1.04)(13.17,1.03)(12.84,1.02)(13.06,1.01)(12.93,1.0)(13.12,0.99)(12.82,0.98)(13.02,0.97)(13.19,0.96)(12.9,0.95)(13.08,0.94)(12.96,0.93)(13.14,0.92)(12.85,0.91)(13.0,0.90)(13.1,0.89)(12.88,0.88)(13.05,0.87)(12.95,0.86)(13.16,0.85)(12.84,0.84)(13.02,0.83)(13.1,0.82)(12.92,0.81)(13.0,0.80)(13.07,0.79)(12.96,0.78)(13.12,0.77)(12.9,0.76)(13.04,0.75)(12.98,0.74)(13.08,0.73)(12.94,0.72)(13.02,0.70)(13.05,0.68)(12.97,0.66)(12.98,0.543)(13.06,0.63)
(14.02,1.49)(14.04,1.38)(14.0,1.308)(13.96,1.28)(14.08,1.26)(13.92,1.24)(14.04,1.22)(14.12,1.20)(13.9,1.18)(14.0,1.17)(14.1,1.15)(13.88,1.14)(14.05,1.13)(13.96,1.12)(14.15,1.11)(13.86,1.10)(14.02,1.09)(14.1,1.08)(13.92,1.07)(14.18,1.06)(13.84,1.05)(14.04,1.04)(13.98,1.03)(14.14,1.02)(13.82,1.01)(14.06,1.0)(13.94,0.99)(14.2,0.98)(13.88,0.97)(14.02,0.96)(14.12,0.95)(13.9,0.94)(14.08,0.93)(13.98,0.92)(14.17,0.91)(13.84,0.90)(14.04,0.89)(13.95,0.88)(14.14,0.87)(13.88,0.86)(14.06,0.85)(13.98,0.84)(14.12,0.83)(13.92,0.82)(14.02,0.81)(14.08,0.80)(13.94,0.79)(14.04,0.78)(13.99,0.76)(14.1,0.74)(13.9,0.77)(14.02,0.72)(13.98,0.70)(14.05,0.68)(14.02,0.65)(13.99,0.63)(14.06,0.60)(14.04,0.57)(14.08,0.497)
(15.05,1.446)(15.06,1.27)(15.02,1.26)(14.96,1.24)(15.1,1.22)(14.92,1.20)(15.04,1.18)(14.98,1.16)(15.12,1.14)(14.88,1.13)(15.02,1.11)(15.08,1.10)(14.94,1.09)(15.15,1.08)(14.86,1.07)(15.0,1.06)(15.1,1.05)(14.9,1.04)(15.04,1.03)(14.97,1.02)(15.14,1.01)(14.84,1.0)(15.06,0.99)(14.95,0.98)(15.12,0.97)(14.88,0.96)(15.02,0.95)(15.09,0.94)(14.92,0.93)(15.16,0.92)(14.86,0.91)(15.04,0.90)(14.98,0.89)(15.1,0.88)(14.9,0.87)(15.06,0.86)(14.95,0.85)(15.12,0.84)(15.0,0.83)(14.93,0.82)(15.08,0.81)(15.02,0.79)(14.96,0.77)(15.06,0.74)(14.98,0.72)(14.96,0.50)(15.0,0.497)
(16.06,1.26)(16.04,1.20)(15.98,1.18)(16.1,1.16)(15.93,1.14)(16.03,1.12)(16.13,1.10)(15.89,1.09)(16.0,1.08)(16.08,1.06)(15.92,1.05)(16.15,1.04)(15.87,1.03)(16.04,1.02)(15.97,1.01)(16.12,1.0)(15.9,0.99)(16.02,0.98)(16.08,0.97)(15.94,0.96)(16.16,0.95)(15.86,0.94)(16.05,0.93)(15.98,0.92)(16.12,0.91)(15.9,0.90)(16.02,0.89)(16.08,0.88)(15.95,0.87)(16.14,0.86)(15.88,0.85)(16.04,0.84)(15.98,0.83)(16.1,0.82)(15.93,0.81)(16.02,0.80)(16.07,0.79)(15.96,0.78)(16.03,0.76)(16.08,0.74)(16.06,0.71)(16.05,0.69)(16.08,0.67)(15.99,0.65)(16.04,0.63)(15.94,0.72)
(17.06,1.564)(17.06,1.44)(17.02,1.37)(17.0,1.34)(17.06,1.25)(16.98,1.20)(17.08,1.16)(16.94,1.14)(17.02,1.12)(17.12,1.10)(16.9,1.09)(17.0,1.08)(17.08,1.07)(16.92,1.06)(17.14,1.05)(16.87,1.04)(17.04,1.03)(16.96,1.02)(17.16,1.01)(16.85,1.0)(17.02,0.99)(17.1,0.98)(16.9,0.97)(17.05,0.96)(16.96,0.95)(17.14,0.94)(16.86,0.93)(17.02,0.92)(17.08,0.91)(16.92,0.90)(17.12,0.89)(16.88,0.88)(17.04,0.87)(16.97,0.86)(17.1,0.85)(16.9,0.84)(17.06,0.83)(16.98,0.82)(17.02,0.80)(16.94,0.78)(17.08,0.77)(16.96,0.75)(17.04,0.73)(16.98,0.71)(17.06,0.69)(16.94,0.67)(17.02,0.65)(16.98,0.63)(17.04,0.61)(16.96,0.60)(17.08,0.64)
(18.02,1.558)(17.99,1.446)(17.95,1.373)(18.0,1.34)(18.03,1.30)(17.98,1.26)(18.06,1.22)(17.94,1.20)(18.04,1.18)(17.9,1.16)(18.1,1.14)(17.98,1.13)(18.06,1.11)(17.88,1.10)(18.02,1.09)(18.13,1.08)(17.92,1.07)(18.0,1.06)(18.09,1.05)(17.86,1.04)(18.04,1.03)(17.96,1.02)(18.15,1.01)(17.88,1.0)(18.06,0.99)(17.94,0.98)(18.12,0.97)(17.85,0.96)(18.02,0.95)(18.08,0.94)(17.92,0.93)(18.0,0.92)(18.16,0.91)(17.87,0.90)(18.05,0.89)(17.97,0.88)(18.11,0.87)(17.9,0.86)(18.03,0.85)(17.95,0.84)(18.08,0.83)(17.98,0.82)(18.04,0.80)(17.93,0.78)(18.0,0.76)(17.96,0.74)(17.95,0.70)(17.97,0.68)(17.95,0.66)(17.98,0.64)(18.05,0.62)(17.96,0.572)(17.98,0.565)(18.18,0.67)
(19.0,1.355)(19.02,1.32)(18.96,1.21)(19.04,1.19)(18.98,1.18)(19.08,1.17)(18.92,1.16)(19.02,1.15)(19.12,1.14)(18.9,1.13)(19.0,1.12)(19.1,1.11)(18.88,1.10)(19.04,1.09)(18.96,1.08)(19.14,1.07)(18.86,1.06)(19.02,1.05)(19.08,1.04)(18.92,1.03)(19.16,1.02)(18.84,1.01)(19.0,1.0)(19.1,0.99)(18.9,0.98)(19.05,0.97)(18.96,0.96)(19.14,0.95)(18.86,0.94)(19.02,0.93)(19.1,0.92)(18.92,0.91)(19.06,0.90)(18.98,0.89)(19.12,0.88)(18.88,0.87)(19.03,0.86)(18.95,0.85)(19.1,0.84)(18.9,0.83)(19.05,0.82)(18.98,0.81)(19.08,0.80)(18.94,0.79)(19.02,0.78)(19.06,0.76)(18.96,0.75)(19.04,0.73)(19.0,0.71)(19.06,0.69)(18.98,0.67)
};
% blue: denser cores
\addplot[bluept] coordinates {
(0.03,1.085)(-0.09,1.075)(0.15,1.065)(-0.16,1.055)(0.06,1.045)(0.19,1.035)(-0.12,1.025)(0.0,1.015)(0.11,1.005)(-0.19,0.995)(0.07,0.985)(-0.05,0.975)(0.16,0.965)(-0.15,0.955)(0.03,0.945)(0.12,0.935)(-0.09,0.925)(0.19,0.915)(-0.02,0.905)(0.08,0.895)(-0.12,0.885)(0.14,0.875)(-0.04,0.865)(0.05,0.855)(-0.1,0.845)(0.1,0.835)(-0.07,0.825)(0.04,0.815)(-0.01,0.805)(0.09,0.795)
(0.97,1.200)(1.09,1.186)(0.85,1.172)(1.16,1.158)(0.94,1.144)(0.81,1.130)(1.12,1.116)(1.0,1.102)(0.89,1.088)(1.19,1.074)(0.93,1.060)(1.05,1.046)(0.84,1.032)(1.15,1.018)(0.97,1.004)(0.88,0.990)(1.09,0.976)(0.81,0.962)(1.02,0.948)(0.92,0.934)(1.12,0.920)(0.86,0.906)(1.04,0.892)(0.95,0.878)(1.1,0.864)(0.9,0.850)(1.07,0.836)(0.96,0.822)(1.01,0.808)(0.91,0.794)
(2.03,1.160)(1.91,1.148)(2.15,1.136)(1.84,1.124)(2.06,1.112)(2.19,1.100)(1.88,1.088)(2.0,1.076)(2.11,1.064)(1.81,1.052)(2.07,1.040)(1.95,1.028)(2.16,1.016)(1.85,1.004)(2.03,0.992)(2.12,0.980)(1.91,0.968)(2.19,0.956)(1.98,0.944)(2.08,0.932)(1.88,0.920)(2.14,0.908)(1.96,0.896)(2.05,0.884)(1.9,0.872)(2.1,0.860)(1.93,0.848)(2.04,0.836)(1.99,0.824)(2.09,0.812)
(2.97,1.125)(3.09,1.111)(2.85,1.097)(3.16,1.083)(2.94,1.069)(2.81,1.055)(3.12,1.041)(3.0,1.027)(2.89,1.013)(3.19,0.999)(2.93,0.985)(3.05,0.971)(2.84,0.957)(3.15,0.943)(2.97,0.929)(2.88,0.915)(3.09,0.901)(2.81,0.887)(3.02,0.873)(2.92,0.859)(3.12,0.845)(2.86,0.831)(3.04,0.817)(2.95,0.803)(3.1,0.789)(2.9,0.775)(3.07,0.761)(2.96,0.747)(3.01,0.733)(2.91,0.719)
(4.03,1.245)(3.91,1.231)(4.15,1.217)(3.84,1.203)(4.06,1.189)(4.19,1.175)(3.88,1.161)(4.0,1.147)(4.11,1.133)(3.81,1.119)(4.07,1.105)(3.95,1.091)(4.16,1.077)(3.85,1.063)(4.03,1.049)(4.12,1.035)(3.91,1.021)(4.19,1.007)(3.98,0.993)(4.08,0.979)(3.88,0.965)(4.14,0.951)(3.96,0.937)(4.05,0.923)(3.9,0.909)(4.1,0.895)(3.93,0.881)(4.04,0.867)(3.99,0.853)(4.09,0.839)
(4.97,1.215)(5.09,1.201)(4.85,1.187)(5.16,1.173)(4.94,1.159)(4.81,1.145)(5.12,1.131)(5.0,1.117)(4.89,1.103)(5.19,1.089)(4.93,1.075)(5.05,1.061)(4.84,1.047)(5.15,1.033)(4.97,1.019)(4.88,1.005)(5.09,0.991)(4.81,0.977)(5.02,0.963)(4.92,0.949)(5.12,0.935)(4.86,0.921)(5.04,0.907)(4.95,0.893)(5.1,0.879)(4.9,0.865)(5.07,0.851)(4.96,0.837)(5.01,0.823)(4.91,0.809)
(6.03,1.145)(5.91,1.133)(6.15,1.121)(5.84,1.109)(6.06,1.097)(6.19,1.085)(5.88,1.073)(6.0,1.061)(6.11,1.049)(5.81,1.037)(6.07,1.025)(5.95,1.013)(6.16,1.001)(5.85,0.989)(6.03,0.977)(6.12,0.965)(5.91,0.953)(6.19,0.941)(5.98,0.929)(6.08,0.917)(5.88,0.905)(6.14,0.893)(5.96,0.881)(6.05,0.869)(5.9,0.857)(6.1,0.845)(5.93,0.833)(6.04,0.821)(5.99,0.809)(6.09,0.797)
(6.97,1.075)(7.09,1.061)(6.85,1.047)(7.16,1.033)(6.94,1.019)(6.81,1.005)(7.12,0.991)(7.0,0.977)(6.89,0.963)(7.19,0.949)(6.93,0.935)(7.05,0.921)(6.84,0.907)(7.15,0.893)(6.97,0.879)
(8.03,1.145)(7.91,1.133)(8.15,1.121)(7.84,1.109)(8.06,1.097)(8.19,1.085)(7.88,1.073)(8.0,1.061)(8.11,1.049)(7.81,1.037)(8.07,1.025)(7.95,1.013)(8.16,1.001)(7.85,0.989)(8.03,0.977)(8.12,0.965)(7.91,0.953)(8.19,0.941)(7.98,0.929)(8.08,0.917)(7.88,0.905)(8.14,0.893)(7.96,0.881)(8.05,0.869)(7.9,0.857)(8.1,0.845)(7.93,0.833)(8.04,0.821)(7.99,0.809)(8.09,0.797)
(8.97,1.295)(9.09,1.277)(8.85,1.259)(9.16,1.241)(8.94,1.223)(8.81,1.205)(9.12,1.187)(9.0,1.169)(8.89,1.151)(9.19,1.133)(8.93,1.115)(9.05,1.097)(8.84,1.079)(9.15,1.061)(8.97,1.043)(8.88,1.025)(9.09,1.007)(8.81,0.989)(9.02,0.971)(8.92,0.953)(9.12,0.935)(8.86,0.917)(9.04,0.899)(8.95,0.881)(9.1,0.863)(8.9,0.845)(9.07,0.827)(8.96,0.809)(9.01,0.791)(8.91,0.773)
(9.03,1.286)(8.91,1.268)(9.15,1.250)(8.84,1.232)(9.06,1.214)(9.19,1.196)(8.88,1.178)(9.0,1.160)(9.11,1.142)(8.81,1.124)(9.07,1.106)(8.95,1.088)(9.16,1.070)(8.85,1.052)(9.03,1.034)(9.12,1.016)(8.91,0.998)(9.19,0.980)(8.98,0.962)(9.08,0.944)(8.88,0.926)(9.14,0.908)(8.96,0.890)(9.05,0.872)(8.9,0.854)(9.1,0.836)(8.93,0.818)(9.04,0.800)(8.99,0.782)(9.09,0.764)
(10.03,1.195)(9.91,1.182)(10.15,1.169)(9.84,1.156)(10.06,1.143)(10.19,1.130)(9.88,1.117)(10.0,1.104)(10.11,1.091)(9.81,1.078)(10.07,1.065)(9.95,1.052)(10.16,1.039)(9.85,1.026)(10.03,1.013)(10.12,1.000)(9.91,0.987)(10.19,0.974)(9.98,0.961)(10.08,0.948)(9.88,0.935)(10.14,0.922)(9.96,0.909)(10.05,0.896)(9.9,0.883)(10.1,0.870)(9.93,0.857)(10.04,0.844)(9.99,0.831)(10.09,0.818)
(10.97,1.055)(11.09,1.044)(10.85,1.033)(11.16,1.022)(10.94,1.011)(10.81,1.000)(11.12,0.989)(11.0,0.978)(10.89,0.967)(11.19,0.956)(10.93,0.945)(11.05,0.934)(10.84,0.923)(11.15,0.912)(10.97,0.901)(10.88,0.890)(11.09,0.879)(10.81,0.868)(11.02,0.857)(10.92,0.846)(11.12,0.835)(10.86,0.824)(11.04,0.813)(10.95,0.802)(11.1,0.791)(10.9,0.780)(11.07,0.769)(10.96,0.758)(11.01,0.747)(10.91,0.736)
(12.03,1.095)(11.91,1.083)(12.15,1.071)(11.84,1.059)(12.06,1.047)(12.19,1.035)(11.88,1.023)(12.0,1.011)(12.11,0.999)(11.81,0.987)(12.07,0.975)(11.95,0.963)(12.16,0.951)(11.85,0.939)(12.03,0.927)(12.12,0.915)(11.91,0.903)(12.19,0.891)(11.98,0.879)(12.08,0.867)(11.88,0.855)(12.14,0.843)(11.96,0.831)(12.05,0.819)(11.9,0.807)(12.1,0.795)(11.93,0.783)(12.04,0.771)(11.99,0.759)(12.09,0.747)
(12.97,1.125)(13.09,1.112)(12.85,1.099)(13.16,1.086)(12.94,1.073)(12.81,1.060)(13.12,1.047)(13.0,1.034)(12.89,1.021)(13.19,1.008)(12.93,0.995)(13.05,0.982)(12.84,0.969)(13.15,0.956)(12.97,0.943)(12.88,0.930)(13.09,0.917)(12.81,0.904)(13.02,0.891)(12.92,0.878)(13.12,0.865)(12.86,0.852)(13.04,0.839)(12.95,0.826)(13.1,0.813)(12.9,0.800)(13.07,0.787)(12.96,0.774)(13.01,0.761)(12.91,0.748)
(14.03,1.215)(13.91,1.199)(14.15,1.183)(13.84,1.167)(14.06,1.151)(14.19,1.135)(13.88,1.119)(14.0,1.103)(14.11,1.087)(13.81,1.071)(14.07,1.055)(13.95,1.039)(14.16,1.023)(13.85,1.007)(14.03,0.991)(14.12,0.975)(13.91,0.959)(14.19,0.943)(13.98,0.927)(14.08,0.911)(13.88,0.895)(14.14,0.879)(13.96,0.863)(14.05,0.847)(13.9,0.831)(14.1,0.815)(13.93,0.799)(14.04,0.783)(13.99,0.767)(14.09,0.751)
(14.97,1.155)(15.09,1.143)(14.85,1.131)(15.16,1.119)(14.94,1.107)(14.81,1.095)(15.12,1.083)(15.0,1.071)(14.89,1.059)(15.19,1.047)(14.93,1.035)(15.05,1.023)(14.84,1.011)(15.15,0.999)(14.97,0.987)(14.88,0.975)(15.09,0.963)(14.81,0.951)(15.02,0.939)(14.92,0.927)(15.12,0.915)(14.86,0.903)(15.04,0.891)(14.95,0.879)(15.1,0.867)(14.9,0.855)(15.07,0.843)(14.96,0.831)(15.01,0.819)(14.91,0.807)
(16.03,1.155)(15.91,1.143)(16.15,1.131)(15.84,1.119)(16.06,1.107)(16.19,1.095)(15.88,1.083)(16.0,1.071)(16.11,1.059)(15.81,1.047)(16.07,1.035)(15.95,1.023)(16.16,1.011)(15.85,0.999)(16.03,0.987)(16.12,0.975)(15.91,0.963)(16.19,0.951)(15.98,0.939)(16.08,0.927)(15.88,0.915)(16.14,0.903)(15.96,0.891)(16.05,0.879)(15.9,0.867)(16.1,0.855)(15.93,0.843)(16.04,0.831)(15.99,0.819)(16.09,0.807)
(16.97,1.115)(17.09,1.103)(16.85,1.091)(17.16,1.079)(16.94,1.067)(16.81,1.055)(17.12,1.043)(17.0,1.031)(16.89,1.019)(17.19,1.007)(16.93,0.995)(17.05,0.983)(16.84,0.971)(17.15,0.959)(16.97,0.947)(16.88,0.935)(17.09,0.923)(16.81,0.911)(17.02,0.899)(16.92,0.887)(17.12,0.875)(16.86,0.863)(17.04,0.851)(16.95,0.839)(17.1,0.827)(16.9,0.815)(17.07,0.803)(16.96,0.791)(17.01,0.779)(16.91,0.767)
(18.03,1.155)(17.91,1.143)(18.15,1.131)(17.84,1.119)(18.06,1.107)(18.19,1.095)(17.88,1.083)(18.0,1.071)(18.11,1.059)(17.81,1.047)(18.07,1.035)(17.95,1.023)(18.16,1.011)(17.85,0.999)(18.03,0.987)(18.12,0.975)(17.91,0.963)(18.19,0.951)(17.98,0.939)(18.08,0.927)(17.88,0.915)(18.14,0.903)(17.96,0.891)(18.05,0.879)(17.9,0.867)(18.1,0.855)(17.93,0.843)(18.04,0.831)(17.99,0.819)(18.09,0.807)
(18.97,1.175)(19.09,1.162)(18.85,1.149)(19.16,1.136)(18.94,1.123)(18.81,1.110)(19.12,1.097)(19.0,1.084)(18.89,1.071)(19.19,1.058)(18.93,1.045)(19.05,1.032)(18.84,1.019)(19.15,1.006)(18.97,0.993)(18.88,0.980)(19.09,0.967)(18.81,0.954)(19.02,0.941)(18.92,0.928)(19.12,0.915)(18.86,0.902)(19.04,0.889)(18.95,0.876)(19.1,0.863)(18.9,0.850)(19.07,0.837)(18.96,0.824)(19.01,0.811)(18.91,0.798)
};
% medians
\addplot[only marks, mark=-, mark size=8.16pt, darkb, mark options={line width=3.8pt}] coordinates {
(0,0.963)(1,0.957)(2,0.945)(3,0.942)(4,0.984)(5,0.959)(6,0.963)(7,0.979)(8,0.977)(9,0.996)
(10,0.998)(11,0.949)(12,0.937)(13,0.941)(14,0.967)(15,0.992)(16,0.967)(17,0.957)(18,0.974)(19,0.976)
};
% reference ratio 1
\addplot[txt, line width=1.15pt, dash pattern=on 1.9mm off 0.95mm] coordinates {(-0.98,1) (19.7,1)};
\end{axis}
\node[text=txt, font=\fontsize{14.7}{17}\selectfont, anchor=base] at (9.90cm,9.556cm) {Landscape composition marginal effect};
\node[text=txt, font=\fontsize{12}{14}\selectfont, rotate=90] at (1.31cm,5.91cm) {prediction ratio};
\node[text=txt, font=\fontsize{12}{14}\selectfont, rotate=90, inner sep=0pt] at (0.36cm,8.25cm) {generalist\ \ $\longrightarrow$};
\node[text=txt, font=\fontsize{12}{14}\selectfont, rotate=90, inner sep=0pt] at (0.36cm,3.60cm) {$\longleftarrow$\ \ specialist};
\node[text=txt, font=\fontsize{10.2}{12}\selectfont, anchor=base] at (5.99cm,0.10cm) {$\longleftarrow$\ \ low sensibility to land composition};
\node[text=txt, font=\fontsize{10.2}{12}\selectfont, anchor=base] at (13.84cm,0.10cm) {high sensibility to land composition\ \ $\longrightarrow$};
\end{tikzpicture}
\end{document}
